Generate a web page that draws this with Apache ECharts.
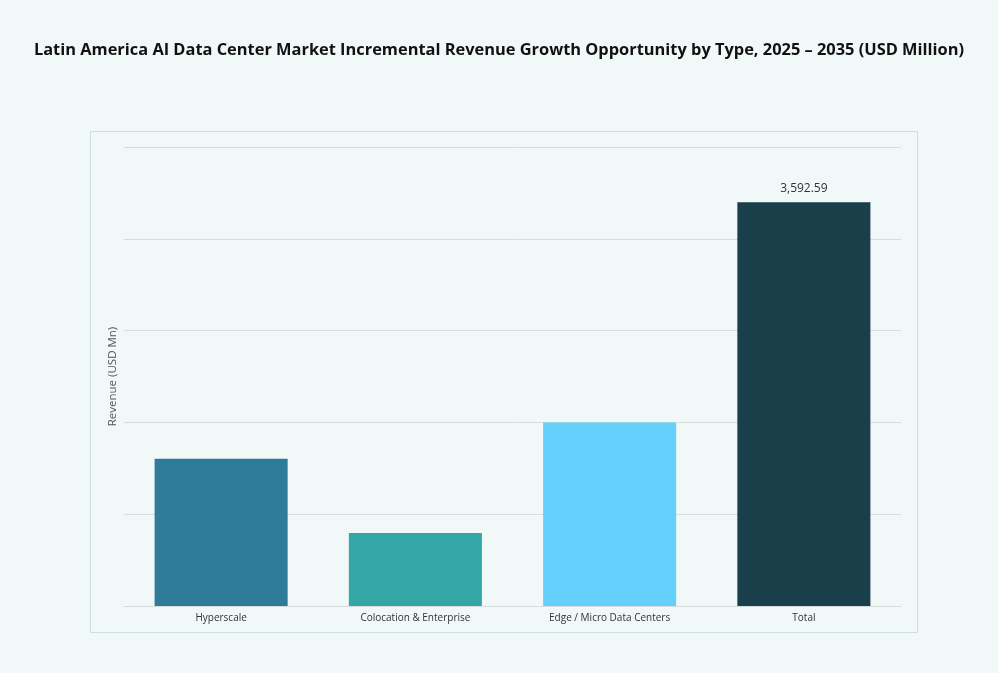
<!DOCTYPE html>
<html>
<head>
<meta charset="utf-8">
<script src="https://cdn.jsdelivr.net/npm/echarts@6/dist/echarts.min.js"></script>
<style>
html,body{margin:0;padding:0;background:#f1f8f8;}
#chart{width:998px;height:673px;}
</style>
</head>
<body>
<div id="chart"></div>
<script>
const categories = ['Hyperscale', 'Colocation & Enterprise', 'Edge / Micro Data Centers', 'Total'];
const values = [1310, 650, 1633, 3592.59];
const barColors = ['#2e7b9a', '#35a6a6', '#66d0fc', '#1a3e4a'];
const labelShown = [false, false, false, true];

const chart = echarts.init(document.getElementById('chart'));
chart.setOption({
  backgroundColor: '#f1f8f8',
  animation: false,
  title: {
    text: 'Latin America AI Data Center Market Incremental Revenue Growth Opportunity by Type, 2025 – 2035 (USD Million)',
    left: 'center',
    top: 37,
    textStyle: { fontFamily: 'Open Sans', fontWeight: 'bold', fontSize: 16.4, color: '#111' }
  },
  graphic: [{
    type: 'rect',
    shape: { x: 90.5, y: 131.5, width: 827, height: 501 },
    style: { fill: 'none', stroke: '#d3dcdc', lineWidth: 1 },
    silent: true
  }],
  grid: { left: 124, right: 97, top: 147, bottom: 67, containLabel: false },
  xAxis: {
    type: 'category',
    data: categories,
    axisLine: { show: true, lineStyle: { color: '#d5dddd' } },
    axisTick: { show: false },
    axisLabel: { color: '#333', fontSize: 10, fontFamily: 'Open Sans', margin: 7 }
  },
  yAxis: {
    type: 'value',
    min: 0,
    max: 4085,
    interval: 817,
    name: 'Revenue (USD Mn)',
    nameLocation: 'middle',
    nameGap: 5,
    nameTextStyle: { color: '#555', fontSize: 11.5, fontFamily: 'Open Sans' },
    axisLabel: { show: false },
    axisLine: { show: false },
    axisTick: { show: false },
    splitLine: { lineStyle: { color: '#d5dddd', width: 1 } }
  },
  series: [{
    type: 'bar',
    barWidth: '68.5%',
    data: values.map((v, i) => ({
      value: v,
      itemStyle: { color: barColors[i] },
      label: {
        show: labelShown[i],
        position: 'top',
        distance: 8,
        color: '#333',
        fontSize: 12,
        fontFamily: 'Open Sans',
        formatter: p => p.value.toLocaleString('en-US', { minimumFractionDigits: 2, maximumFractionDigits: 2 })
      }
    }))
  }]
});
</script>
</body>
</html>
